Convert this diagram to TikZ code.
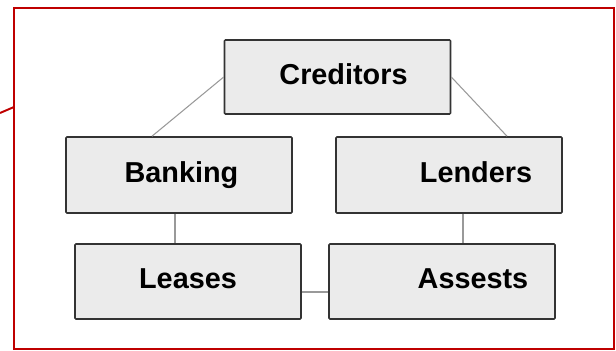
\documentclass[tikz,border=0pt]{standalone}
\usepackage{fontspec}
\setmainfont{Liberation Sans}

\begin{document}
\begin{tikzpicture}[
		frame/.style={draw=red!75!black,line width=1.1pt},
		box/.style={draw=black!80,fill=black!8,line width=0.9pt,rounded corners=0.5pt,minimum width=4.52cm,minimum height=1.52cm,inner ysep=0pt,text height=12pt,text depth=3.7pt,font=\fontsize{16.4}{20}\selectfont\bfseries},
		link/.style={draw=black!40,line width=0.6pt}
	]
			\useasboundingbox (0,0) rectangle (12.32,-7.02);
			\draw[frame] (0.28,-0.16) rectangle (12.28,-6.98);
			\coordinate (tail) at (0,-2.26);
			\coordinate (corner) at (0.28,-2.14);
			\draw[frame] (tail) -- (corner);

			\node[box,minimum height=1.48cm] (creditors) at (6.75,-1.54) {\hspace{0.24cm}Creditors};
			\node[box] (banking) at (3.58,-3.50) {\hspace{0.1cm}Banking};
			\node[box] (lenders) at (8.98,-3.50) {\hspace{1.08cm}Lenders};
			\node[box,minimum height=1.50cm] (leases) at (3.76,-5.63) {Leases};
			\node[box,minimum height=1.50cm] (assests) at (8.84,-5.63) {\hspace{1.24cm}Assests};

			\draw[link] (creditors.west) -- ([xshift=-0.54cm]banking.north);
			\draw[link] (creditors.east) -- ([xshift=1.16cm]lenders.north);
			\draw[link] ([xshift=-0.08cm]banking.south) -- ([xshift=-0.08cm]banking.south |- leases.north);
			\draw[link] ([xshift=0.28cm]lenders.south) -- ([xshift=0.28cm]lenders.south |- assests.north);
			\draw[link] ([yshift=-0.21cm]leases.east) -- ([yshift=-0.21cm]leases.east -| assests.west);
\end{tikzpicture}
\end{document}
